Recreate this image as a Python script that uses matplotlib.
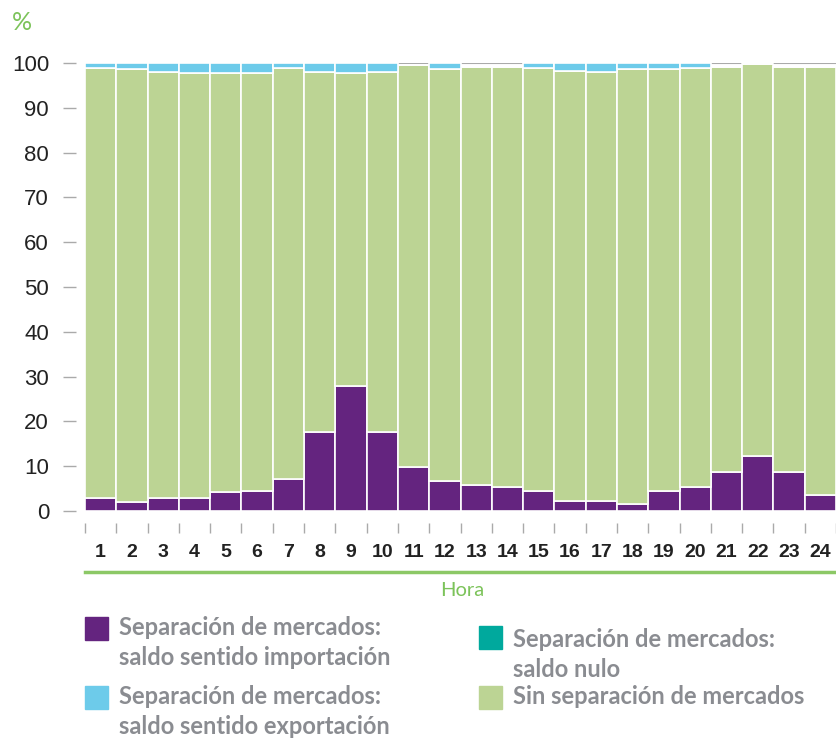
import matplotlib.pyplot as plt
import numpy as np
from matplotlib.patches import Rectangle
from matplotlib.lines import Line2D

# --- Data ---
horas = [str(h) for h in range(1, 25)]
importacion = [3.0, 2.1, 3.0, 3.0, 4.2, 4.5, 7.1, 17.6, 27.8, 17.7, 9.8, 6.6,
               5.7, 5.4, 4.5, 2.3, 2.3, 1.5, 4.5, 5.4, 8.6, 12.2, 8.6, 3.6]
sin_separacion = [96.0, 96.5, 95.1, 94.8, 93.6, 93.3, 91.9, 80.5, 70.0, 80.4, 89.8, 92.0,
                  93.5, 93.8, 94.5, 96.0, 95.8, 97.1, 94.1, 93.6, 90.6, 87.6, 90.6, 95.6]
saldo_nulo = [0.0] * 24
exportacion = [1.0, 1.4, 1.9, 2.2, 2.2, 2.2, 1.0, 1.9, 2.2, 1.9, 0.0, 1.4,
               0.0, 0.0, 1.0, 1.7, 1.9, 1.4, 1.4, 1.0, 0.0, 0.0, 0.0, 0.0]

c_imp = '#64247f'
c_exp = '#6dcbea'
c_nulo = '#00a99d'
c_sin = '#bcd494'
c_label = '#8a8c91'
c_green = '#7cc35a'

fig = plt.figure(figsize=(8.36, 7.38), dpi=100)
ax = fig.add_axes([0.1017, 0.3076, 0.8983, 0.6070])

x = np.arange(1, 25)
imp = np.array(importacion)
sin = np.array(sin_separacion)
nul = np.array(saldo_nulo)
exp_ = np.array(exportacion)

kw = dict(width=1.0, edgecolor='white', linewidth=1.2, zorder=3)
ax.bar(x, imp, color=c_imp, **kw)
ax.bar(x, sin, bottom=imp, color=c_sin, **kw)
ax.bar(x, nul, bottom=imp + sin, color=c_nulo, **kw)
ax.bar(x, exp_, bottom=imp + sin + nul, color=c_exp, **kw)

ax.axhline(100, color='#aaaaaa', linewidth=1.5, zorder=1)

ax.set_xlim(0.5, 24.5)
ax.set_ylim(0, 100)

for s in ax.spines.values():
    s.set_visible(False)
ax.spines['bottom'].set_position(('outward', 9))
ax.spines['left'].set_position(('outward', 6.5))

# y axis
ax.set_yticks(np.arange(0, 101, 10))
ax.tick_params(axis='y', length=9.4, width=1, color='#aaaaaa', pad=10,
               labelsize=16, labelcolor='#222222')
for lab in ax.get_yticklabels():
    lab.set_fontfamily('Liberation Sans')

# x axis: labels centered, ticks at bar boundaries
ax.set_xticks(x)
ax.set_xticklabels(horas, fontsize=14, fontweight='bold',
                   family='Liberation Sans', color='#222222')
ax.set_xticks(np.arange(0.5, 24.6, 1), minor=True)
ax.tick_params(axis='x', which='major', length=0, pad=15)
ax.tick_params(axis='x', which='minor', length=7.5, width=1, color='#aaaaaa')

# green rule and axis title
fig.add_artist(Line2D([0.1017, 1.0], [1 - 572 / 738] * 2, color='#8cc866', linewidth=2.5))
fig.text(0.553, 1 - 591 / 738, 'Hora', color=c_green, fontsize=14.5,
         ha='center', va='center', family='Lato')
fig.text(12 / 836, 1 - 23 / 738, '%', color=c_green, fontsize=18,
         ha='left', va='center', family='Lato')

# legend (manual)
def legend_item(px, py, color, text, ty):
    W, H = 836.0, 738.0
    fig.add_artist(Rectangle((px / W, 1 - (py + 23) / H), 23 / W, 23 / H,
                             color=color, transform=fig.transFigure))
    fig.text((px + 34) / W, 1 - ty / H, text, color=c_label, fontsize=17,
             fontweight='bold', family='Lato', ha='left', va='top', linespacing=1.38)

legend_item(85, 617, c_imp, 'Separación de mercados:\nsaldo sentido importación', 616)
legend_item(85, 686, c_exp, 'Separación de mercados:\nsaldo sentido exportación', 685)
legend_item(479, 626, c_nulo, 'Separación de mercados:\nsaldo nulo', 628)
legend_item(479, 686, c_sin, 'Sin separación de mercados', 685)

fig.savefig('out.png', dpi=100)
